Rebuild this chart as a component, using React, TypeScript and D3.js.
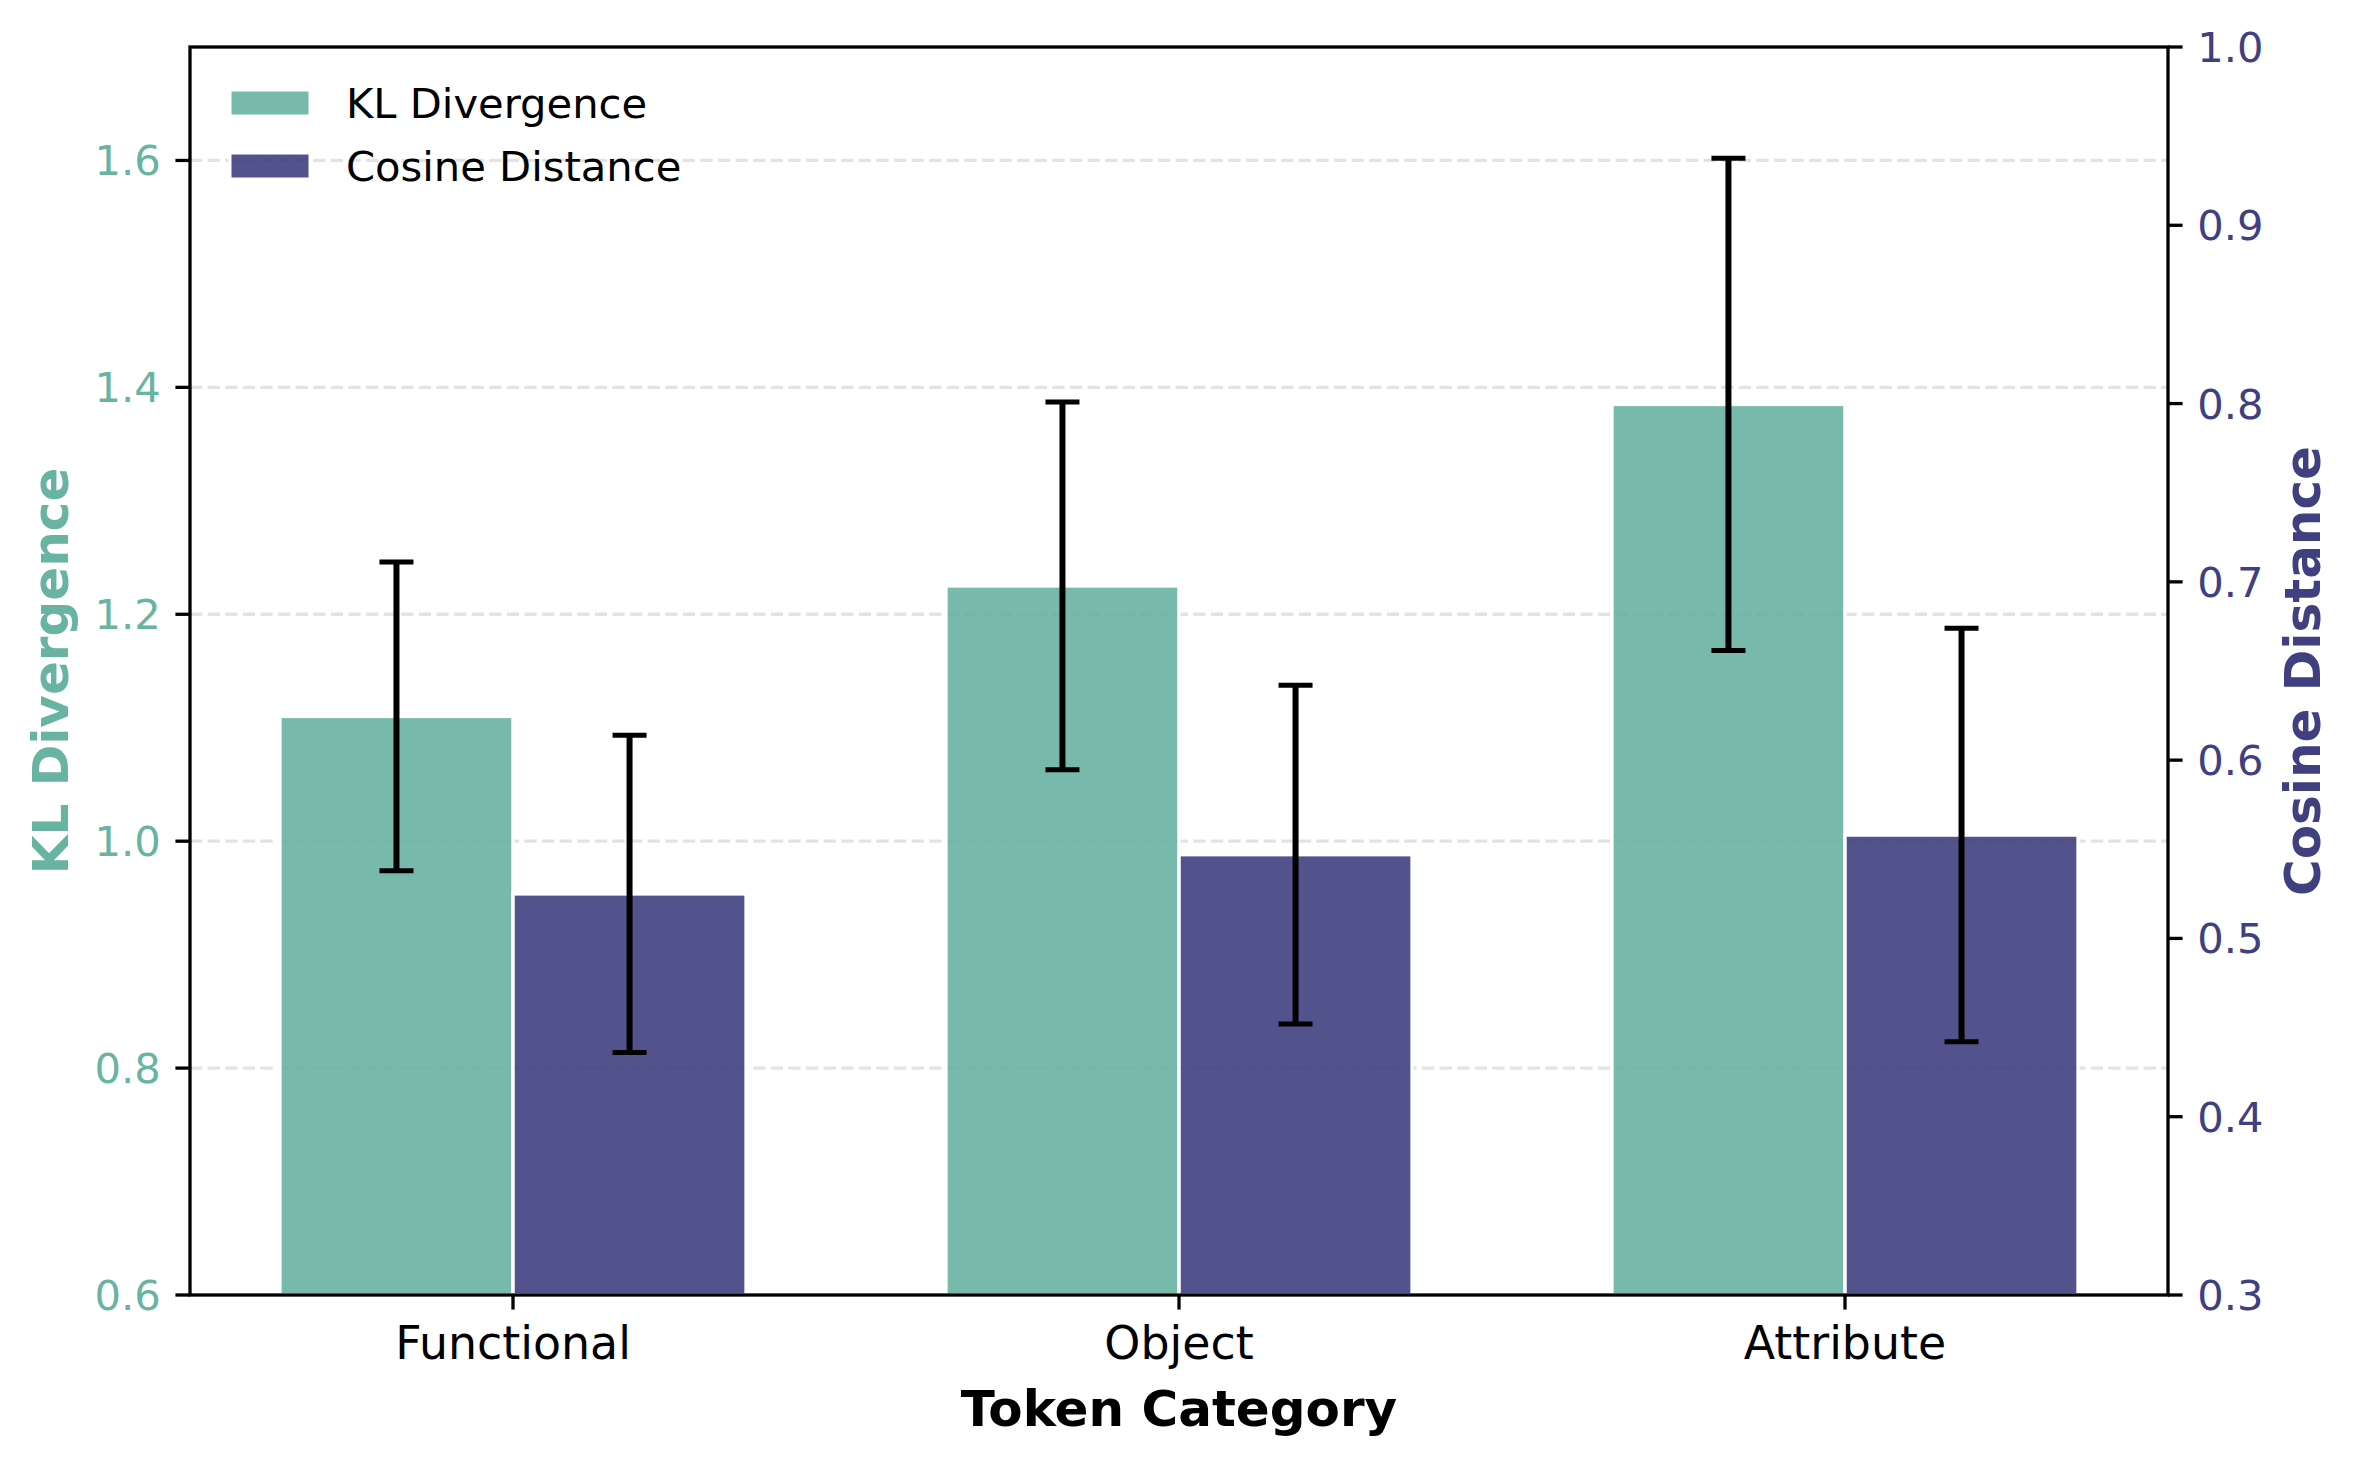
import { useEffect, useRef } from "react";
import * as d3 from "d3";

const categories = ["Functional", "Object", "Attribute"];
const klMeans = [1.11, 1.225, 1.385];
const klErrors = [0.136, 0.162, 0.217];
const cosMeans = [0.525, 0.547, 0.558];
const cosErrors = [0.089, 0.095, 0.116];
const klTicks = [0.6, 0.8, 1.0, 1.2, 1.4, 1.6];
const cosTicks = [0.3, 0.4, 0.5, 0.6, 0.7, 0.8, 0.9, 1.0];

const W = 2358;
const H = 1464;
const margin = { top: 47, right: 190, bottom: 169, left: 190 };
const KL_COLOR = "#69b3a2";
const COS_COLOR = "#404080";
const FONT = "DejaVu Sans";
const PT = 300 / 72;

const App = () => {
  const svgRef = useRef<SVGSVGElement>(null);

  useEffect(() => {
    if (!svgRef.current) return;
    const svg = d3.select(svgRef.current);
    svg.selectAll("*").remove();

    const x0 = margin.left;
    const x1 = W - margin.right;
    const y0 = margin.top;
    const y1 = H - margin.bottom;

    const barW = 0.35;
    // matplotlib style 5% margins around the bar extent
    const xScale = d3.scaleLinear().domain([-0.485, 2.485]).range([x0, x1]);
    const yKL = d3.scaleLinear().domain([0.6, 1.7]).range([y1, y0]);
    const yCos = d3.scaleLinear().domain([0.3, 1.0]).range([y1, y0]);

    const g = svg.append("g");

    // grid (left axis ticks)
    g.selectAll("line.grid")
      .data(klTicks.slice(1))
      .enter()
      .append("line")
      .attr("class", "grid")
      .attr("x1", x0)
      .attr("x2", x1)
      .attr("y1", (d) => yKL(d))
      .attr("y2", (d) => yKL(d))
      .attr("stroke", "#e3e3e3")
      .attr("stroke-width", 3.3)
      .attr("stroke-dasharray", "12.3,5.3");

    const drawBars = (
      means: number[],
      offset: number,
      y: d3.ScaleLinear<number, number>,
      color: string
    ) => {
      g.selectAll(null)
        .data(means)
        .enter()
        .append("rect")
        .attr("x", (_d, i) => xScale(i + offset - barW / 2))
        .attr("width", xScale(barW) - xScale(0))
        .attr("y", (d) => y(d))
        .attr("height", (d) => y1 - y(d))
        .attr("fill", color)
        .attr("stroke", "white")
        .attr("stroke-width", 3.5)
        .attr("opacity", 0.9);
    };

    const drawErrors = (
      means: number[],
      errs: number[],
      offset: number,
      y: d3.ScaleLinear<number, number>
    ) => {
      const cap = 17;
      means.forEach((m, i) => {
        const cx = xScale(i + offset);
        const top = y(m + errs[i]);
        const bot = y(m - errs[i]);
        g.append("line")
          .attr("x1", cx).attr("x2", cx)
          .attr("y1", top).attr("y2", bot)
          .attr("stroke", "black").attr("stroke-width", 6);
        [top, bot].forEach((yy) => {
          g.append("line")
            .attr("x1", cx - cap).attr("x2", cx + cap)
            .attr("y1", yy).attr("y2", yy)
            .attr("stroke", "black").attr("stroke-width", 5);
        });
      });
    };

    drawBars(klMeans, -barW / 2, yKL, KL_COLOR);
    drawErrors(klMeans, klErrors, -barW / 2, yKL);
    drawBars(cosMeans, barW / 2, yCos, COS_COLOR);
    drawErrors(cosMeans, cosErrors, barW / 2, yCos);

    // frame
    g.append("rect")
      .attr("x", x0).attr("y", y0)
      .attr("width", x1 - x0).attr("height", y1 - y0)
      .attr("fill", "none").attr("stroke", "black").attr("stroke-width", 3.3);

    const tickLen = 3.5 * PT;
    const pad = 3.5 * PT;
    const tickFont = 10 * PT;

    // x axis
    categories.forEach((c, i) => {
      const cx = xScale(i);
      g.append("line")
        .attr("x1", cx).attr("x2", cx)
        .attr("y1", y1).attr("y2", y1 + tickLen)
        .attr("stroke", "black").attr("stroke-width", 3.3);
      g.append("text")
        .attr("x", cx)
        .attr("y", y1 + tickLen + pad)
        .attr("dy", "0.76em")
        .attr("text-anchor", "middle")
        .attr("font-family", FONT)
        .attr("font-size", 11 * PT)
        .attr("fill", "black")
        .text(c);
    });

    // left axis
    klTicks.forEach((t) => {
      const yy = yKL(t);
      g.append("line")
        .attr("x1", x0 - tickLen).attr("x2", x0)
        .attr("y1", yy).attr("y2", yy)
        .attr("stroke", "black").attr("stroke-width", 3.3);
      g.append("text")
        .attr("x", x0 - tickLen - pad)
        .attr("y", yy)
        .attr("dy", "0.36em")
        .attr("text-anchor", "end")
        .attr("font-family", FONT)
        .attr("font-size", tickFont)
        .attr("fill", KL_COLOR)
        .text(d3.format(".1f")(t));
    });

    // right axis
    cosTicks.forEach((t) => {
      const yy = yCos(t);
      g.append("line")
        .attr("x1", x1).attr("x2", x1 + tickLen)
        .attr("y1", yy).attr("y2", yy)
        .attr("stroke", "black").attr("stroke-width", 3.3);
      g.append("text")
        .attr("x", x1 + tickLen + pad)
        .attr("y", yy)
        .attr("dy", "0.36em")
        .attr("text-anchor", "start")
        .attr("font-family", FONT)
        .attr("font-size", tickFont)
        .attr("fill", COS_COLOR)
        .text(d3.format(".1f")(t));
    });

    const labelFont = 12 * PT;
    const midY = (y0 + y1) / 2;

    g.append("text")
      .attr("x", xScale(1))
      .attr("y", 1426)
      .attr("text-anchor", "middle")
      .attr("font-family", FONT)
      .attr("font-size", labelFont)
      .attr("font-weight", "bold")
      .attr("fill", "black")
      .text("Token Category");

    g.append("text")
      .attr("transform", `translate(68,${midY}) rotate(-90)`)
      .attr("text-anchor", "middle")
      .attr("font-family", FONT)
      .attr("font-size", labelFont)
      .attr("font-weight", "bold")
      .attr("fill", KL_COLOR)
      .text("KL Divergence");

    g.append("text")
      .attr("transform", `translate(2320,${midY}) rotate(-90)`)
      .attr("text-anchor", "middle")
      .attr("font-family", FONT)
      .attr("font-size", labelFont)
      .attr("font-weight", "bold")
      .attr("fill", COS_COLOR)
      .text("Cosine Distance");

    // legend
    const legendItems = [
      { label: "KL Divergence", color: KL_COLOR },
      { label: "Cosine Distance", color: COS_COLOR },
    ];
    legendItems.forEach((item, i) => {
      const cy = 103 + i * 63;
      g.append("rect")
        .attr("x", 230).attr("y", cy - 13)
        .attr("width", 80).attr("height", 26)
        .attr("fill", item.color)
        .attr("stroke", "white").attr("stroke-width", 3)
        .attr("opacity", 0.9);
      g.append("text")
        .attr("x", 346).attr("y", cy)
        .attr("dy", "0.36em")
        .attr("font-family", FONT)
        .attr("font-size", tickFont)
        .attr("fill", "black")
        .text(item.label);
    });
  }, []);

  return (
    <svg
      ref={svgRef}
      width={W}
      height={H}
      style={{ position: "absolute", left: 0, top: 0, background: "white" }}
    />
  );
};

export default App;
